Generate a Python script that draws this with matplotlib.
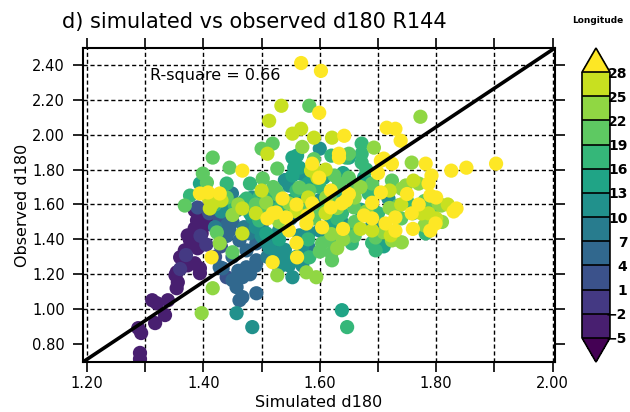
"""
Dispersão d180 simulado x observado (R144), pontos coloridos pela longitude.
"""

import matplotlib

matplotlib.use("Agg")
import matplotlib.pyplot as plt
import numpy as np
from matplotlib.colors import BoundaryNorm, ListedColormap

# ------------------------------------------------------------------ dados
# pontos agrupados pela faixa de cor (longitude)
lon_a = -3.5
sim_a = [1.291, 1.291, 1.288, 1.293, 1.317, 1.334, 1.312, 1.320, 1.339, 1.354,
         1.356, 1.354, 1.365, 1.360, 1.382, 1.385, 1.397, 1.390, 1.385, 1.394,
         1.394, 1.352, 1.373, 1.368, 1.377, 1.389, 1.394, 1.402, 1.411, 1.402,
         1.385, 1.373]
obs_a = [0.749, 0.714, 0.891, 0.863, 0.920, 0.966, 1.051, 1.034, 1.051, 1.120,
         1.154, 1.211, 1.269, 1.297, 1.377, 1.463, 1.434, 1.349, 1.263, 1.234,
         1.206, 1.194, 1.251, 1.337, 1.394, 1.509, 1.537, 1.480, 1.520, 1.566,
         1.566, 1.423]

lon_b = -0.5
sim_b = [1.395, 1.370, 1.405, 1.360]
obs_b = [1.420, 1.310, 1.370, 1.230]

lon_c = 2.5
sim_c = [1.440, 1.428, 1.430, 1.420, 1.410, 1.390]
obs_c = [1.183, 1.509, 1.360, 1.300, 1.550, 1.583]

lon_d = 5.5
sim_d = [1.433, 1.450, 1.457, 1.467, 1.462, 1.491, 1.428, 1.474, 1.491, 1.474,
         1.462, 1.445, 1.440, 1.491, 1.467, 1.450, 1.440, 1.460, 1.480, 1.450,
         1.430, 1.490, 1.440]
obs_d = [1.234, 1.166, 1.126, 1.069, 1.051, 1.091, 1.240, 1.240, 1.280, 1.337,
         1.394, 1.451, 1.549, 1.377, 1.183, 1.300, 1.420, 1.220, 1.200, 1.500,
         1.400, 1.250, 1.480]

lon_e = 8.5
sim_e = [1.457, 1.479, 1.470, 1.449, 1.500, 1.550, 1.580, 1.520, 1.510, 1.420]
obs_e = [1.566, 1.434, 1.470, 1.663, 1.480, 1.520, 1.360, 1.380, 1.300, 1.470]

lon_f = 11.5
sim_f = [1.457, 1.484, 1.513, 1.525, 1.542, 1.553, 1.570, 1.633, 1.484, 1.565,
         1.582, 1.547, 1.530, 1.505, 1.638, 1.701, 1.479, 1.570, 1.568, 1.607,
         1.547, 1.484, 1.565, 1.718, 1.599, 1.442, 1.490, 1.520, 1.600, 1.690,
         1.510, 1.540, 1.530, 1.600, 1.500, 1.540, 1.570, 1.530, 1.430]
obs_f = [0.977, 0.897, 1.354, 1.320, 1.280, 1.183, 1.354, 1.491, 1.526, 1.423,
         1.440, 1.251, 1.451, 1.394, 1.497, 1.497, 1.583, 1.777, 1.777, 1.777,
         1.709, 1.640, 1.623, 1.634, 1.623, 1.577, 1.470, 1.600, 1.450, 1.480,
         1.640, 1.740, 1.550, 1.920, 1.420, 1.340, 1.250, 1.240, 1.560]

lon_g = 14.5
sim_g = [1.553, 1.565, 1.553, 1.394, 1.638, 1.607, 1.650, 1.676, 1.561, 1.556,
         1.508, 1.480, 1.620, 1.630, 1.530, 1.710, 1.470, 1.550, 1.580, 1.640,
         1.670, 1.560]
obs_g = [1.869, 1.811, 1.766, 1.720, 0.994, 1.754, 1.869, 1.754, 1.880, 1.811,
         1.434, 1.550, 1.500, 1.660, 1.400, 1.360, 1.620, 1.620, 1.720, 1.780,
         1.570, 1.300]

lon_h = 17.5
sim_h = [1.582, 1.496, 1.638, 1.647, 1.655, 1.696, 1.782, 1.496, 1.519, 1.560,
         1.672, 1.672, 1.672, 1.684, 1.579, 1.645, 1.474, 1.440, 1.454, 1.650,
         1.377, 1.540, 1.700, 1.750, 1.690, 1.530, 1.480, 1.600, 1.620, 1.630,
         1.680, 1.760, 1.580, 1.420]
obs_h = [1.297, 1.509, 1.549, 0.897, 1.377, 1.337, 1.434, 1.640, 1.663, 1.680,
         1.949, 1.891, 1.840, 1.663, 1.669, 1.869, 1.634, 1.720, 1.594, 1.451,
         1.651, 1.580, 1.550, 1.620, 1.380, 1.580, 1.720, 1.700, 1.880, 1.520,
         1.800, 1.550, 1.400, 1.600]

lon_i = 20.5
sim_i = [1.423, 1.450, 1.604, 1.621, 1.616, 1.645, 1.696, 1.792, 1.582, 1.500,
         1.519, 1.527, 1.445, 1.416, 1.502, 1.399, 1.406, 1.582, 1.577, 1.625,
         1.650, 1.633, 1.724, 1.735, 1.659, 1.650, 1.662, 1.787, 1.565, 1.525,
         1.530, 1.599, 1.368, 1.500, 1.590, 1.660, 1.740, 1.600, 1.660, 1.490,
         1.520, 1.620, 1.590, 1.690, 1.780, 1.730, 1.620, 1.440]
obs_i = [1.440, 1.326, 1.377, 1.280, 1.394, 1.411, 1.411, 1.566, 2.166, 1.920,
         1.949, 1.806, 1.811, 1.869, 1.749, 1.777, 1.726, 1.680, 1.566, 1.766,
         1.754, 1.720, 1.737, 1.594, 1.583, 1.891, 1.697, 1.577, 1.697, 1.680,
         1.651, 1.577, 1.594, 1.570, 1.520, 1.500, 1.520, 1.330, 1.420, 1.600,
         1.700, 1.620, 1.860, 1.720, 1.620, 1.400, 1.320, 1.640]

lon_j = 23.5
sim_j = [1.416, 1.397, 1.428, 1.527, 1.577, 1.594, 1.724, 1.741, 1.809, 1.773,
         1.693, 1.758, 1.748, 1.741, 1.804, 1.508, 1.547, 1.611, 1.530, 1.620,
         1.680, 1.720, 1.780, 1.660, 1.630, 1.460, 1.630, 1.570, 1.670, 1.770,
         1.710, 1.810, 1.640, 1.450]
obs_j = [1.120, 0.977, 1.377, 1.194, 1.211, 1.183, 1.394, 1.383, 1.594, 2.103,
         1.926, 1.840, 1.709, 1.690, 1.606, 1.611, 1.606, 1.640, 1.500, 1.430,
         1.560, 1.580, 1.480, 1.640, 1.350, 1.600, 1.580, 1.930, 1.700, 1.720,
         1.440, 1.500, 1.400, 1.540]

lon_k = 26.5
sim_k = [1.467, 1.534, 1.513, 1.553, 1.568, 1.510, 1.587, 1.416, 1.431, 1.590,
         1.621, 1.761, 1.585, 1.596, 1.467, 1.411, 1.690, 1.722, 1.787, 1.775,
         1.560, 1.610, 1.670, 1.800, 1.580, 1.500, 1.490, 1.610, 1.720, 1.820,
         1.740, 1.410]
obs_k = [1.434, 2.166, 2.080, 2.006, 2.034, 1.891, 1.811, 1.606, 1.623, 1.983,
         1.983, 1.737, 1.794, 1.754, 1.577, 1.577, 1.451, 1.423, 1.549, 1.549,
         1.560, 1.550, 1.460, 1.520, 1.640, 1.680, 1.550, 1.800, 1.680, 1.600,
         1.600, 1.630]

lon_l = 30.0
sim_l = [1.414, 1.519, 1.561, 1.519, 1.542, 1.577, 1.604, 1.547, 1.579, 1.799,
         1.835, 1.758, 1.568, 1.602, 1.467, 1.394, 1.408, 1.428, 1.536, 1.587,
         1.599, 1.587, 1.525, 1.599, 1.642, 1.715, 1.730, 1.739, 1.633, 1.710,
         1.724, 1.782, 1.826, 1.852, 1.903, 1.792, 1.787, 1.705, 1.790, 1.619,
         1.645, 1.676, 1.633, 1.705, 1.619, 1.638, 1.713, 1.730, 1.640, 1.510,
         1.560, 1.730, 1.760, 1.770, 1.690, 1.560, 1.650, 1.700, 1.750, 1.800,
         1.790, 1.830, 1.690]
obs_l = [1.297, 1.269, 1.297, 1.549, 1.526, 1.491, 1.469, 1.451, 1.537, 1.491,
         1.577, 1.549, 2.411, 2.366, 1.794, 1.663, 1.669, 1.663, 1.634, 1.834,
         1.754, 1.606, 1.554, 2.126, 1.994, 2.040, 2.034, 1.966, 1.869, 1.863,
         1.834, 1.834, 1.794, 1.811, 1.834, 1.766, 1.720, 1.669, 1.651, 1.680,
         1.623, 1.537, 1.891, 1.851, 1.583, 1.606, 1.491, 1.526, 1.460, 1.520,
         1.380, 1.450, 1.460, 1.600, 1.610, 1.600, 1.660, 1.780, 1.660, 1.640,
         1.450, 1.560, 1.520]

r_quadrado = 0.66
niveis = list(range(-5, 29, 3))  # -5, -2, ..., 28
x_ticks = [1.2, 1.3, 1.4, 1.5, 1.6, 1.7, 1.8, 1.9, 2.0]
x_rotulos = ["1.20", "", "1.40", "", "1.60", "", "1.80", "", "2.00"]
y_ticks = [0.8, 1.0, 1.2, 1.4, 1.6, 1.8, 2.0, 2.2, 2.4]
y_rotulos = ["0.80", "1.00", "1.20", "1.40", "1.60", "1.80", "2.00", "2.20", "2.40"]

grupos = [
    (lon_a, sim_a, obs_a), (lon_b, sim_b, obs_b), (lon_c, sim_c, obs_c),
    (lon_d, sim_d, obs_d), (lon_e, sim_e, obs_e), (lon_f, sim_f, obs_f),
    (lon_g, sim_g, obs_g), (lon_h, sim_h, obs_h), (lon_i, sim_i, obs_i),
    (lon_j, sim_j, obs_j), (lon_k, sim_k, obs_k), (lon_l, sim_l, obs_l),
]
sim = np.concatenate([g[1] for g in grupos])
obs = np.concatenate([g[2] for g in grupos])
lon = np.concatenate([np.full(len(g[1]), g[0]) for g in grupos])

# ------------------------------------------------------------------ cores
cores = plt.get_cmap("viridis")(np.linspace(0, 1, len(niveis) + 1))
cmap = ListedColormap(cores[1:-1])
cmap.set_under(cores[0])
cmap.set_over(cores[-1])
norm = BoundaryNorm(niveis, cmap.N)

# ------------------------------------------------------------------ figura
fig = plt.figure(figsize=(6.3, 4.12), dpi=100)
ax = fig.add_axes([0.1317, 0.1214, 0.749, 0.762])

x_min, x_max = 1.193, 2.004
y_min, y_max = 0.697, 2.497

# grade tracejada (sem linha em 0.80, como no original)
for xv in x_ticks:
    ax.axvline(xv, color="black", lw=1.0, ls=(0, (3, 2)), zorder=1)
for yv in y_ticks[1:]:
    ax.axhline(yv, color="black", lw=1.0, ls=(0, (3, 2)), zorder=1)

ordem = np.argsort(lon, kind="stable")
sc = ax.scatter(sim[ordem], obs[ordem], c=lon[ordem], cmap=cmap, norm=norm,
                s=105, edgecolors="none", zorder=2)

# reta de canto a canto
ax.plot([0, 1], [0, 1], transform=ax.transAxes, color="black", lw=2.6,
        zorder=3, solid_capstyle="butt")

ax.set_xlim(x_min, x_max)
ax.set_ylim(y_min, y_max)
ax.set_xticks(x_ticks)
ax.set_xticklabels(x_rotulos)
ax.set_yticks(y_ticks)
ax.set_yticklabels(y_rotulos)
ax.tick_params(direction="out", length=7, width=1.2, top=True, right=True,
               labelsize=10.5, pad=3)
ax.tick_params(axis="y", pad=6)
for lado in ax.spines.values():
    lado.set_linewidth(1.5)

ax.text(0.142, 0.911, f"R-square = {r_quadrado:.2f}", transform=ax.transAxes,
        fontsize=11.5, ha="left", va="center")

fig.text(0.098, 0.932, "d) simulated vs observed d180 R144", fontsize=15,
         ha="left", va="baseline")
fig.text(0.506, 0.024, "Simulated d180", fontsize=11.5, ha="center", va="center")
fig.text(0.035, 0.5024, "Observed d180", fontsize=11.5, ha="center",
         va="center", rotation=90)
fig.text(0.949, 0.951, "Longitude", fontsize=6.5, fontweight="bold",
         ha="center", va="center")

# ------------------------------------------------------------------ barra de cores
cax = fig.add_axes([0.9238, 0.1214, 0.0444, 0.762])
cb = fig.colorbar(sc, cax=cax, extend="both", extendfrac=0.0907,
                  drawedges=True, ticks=niveis)
cb.outline.set_linewidth(1.2)
cb.dividers.set_color("black")
cb.dividers.set_linewidth(1.2)
cb.ax.tick_params(length=0, labelsize=10, pad=12.5)
for rot in cb.ax.get_yticklabels():
    rot.set_fontweight("bold")
    rot.set_horizontalalignment("right")

fig.savefig("out.png", dpi=100)
